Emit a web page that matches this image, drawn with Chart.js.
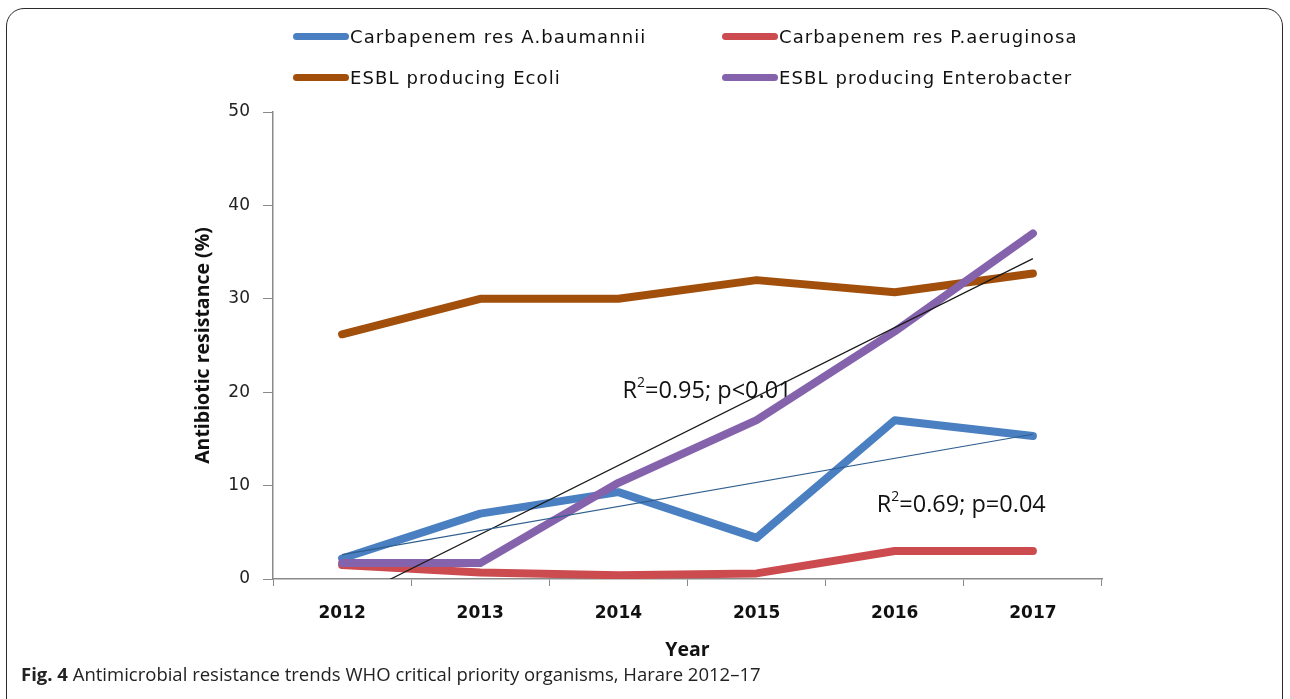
<!DOCTYPE html>
<html lang="en">
  <head>
    <meta charset="UTF-8" />
    <title>Antimicrobial resistance trends</title>
    <script src="https://cdn.jsdelivr.net/npm/chart.js"></script>
    <style>
      body {
        margin: 0;
        background: #fff;
        overflow: hidden;
        font-family: "Open Sans", sans-serif;
      }

      .page {
        position: relative;
        width: 1290px;
        height: 699px;
        overflow: hidden;
      }

      .frame {
        position: absolute;
        left: 6px;
        top: 8px;
        width: 1275px;
        height: 760px;
        border: 1.5px solid #2b2b2b;
        border-radius: 18px;
      }

      #chart {
        position: absolute;
        left: 0;
        top: 0;
      }

      .legend {
        position: absolute;
        left: 293px;
        top: 22px;
        display: grid;
        grid-template-columns: 429px 380px;
        row-gap: 13px;
      }

      .legend-item {
        display: flex;
        align-items: center;
        height: 28px;
        font-family: "DejaVu Sans", sans-serif;
        font-size: 18px;
        letter-spacing: 1.1px;
        color: #111;
      }

      .swatch {
        width: 56px;
        height: 7px;
        border-radius: 4px;
        margin-right: 1px;
      }

      .caption {
        position: absolute;
        left: 21px;
        top: 661px;
        font-size: 18.5px;
        color: #222;
        white-space: nowrap;
      }
    </style>
  </head>
  <body>
    <div class="page">
      <div class="frame"></div>
      <canvas id="chart" width="1290" height="699"></canvas>
      <div class="legend" id="legend"></div>
      <div class="caption">
        <b>Fig. 4</b> Antimicrobial resistance trends WHO critical priority organisms, Harare 2012–17
      </div>
    </div>

    <script>
      const years = ["2012", "2013", "2014", "2015", "2016", "2017"];
      const baumannii = [2.2, 7.0, 9.3, 4.4, 17.0, 15.3];
      const aeruginosa = [1.5, 0.7, 0.4, 0.6, 3.0, 3.0];
      const ecoli = [26.2, 30.0, 30.0, 32.0, 30.7, 32.7];
      const enterobacter = [1.7, 1.7, 10.3, 17.0, 26.5, 37.0];
      // linear trend lines, end values
      const baumanniiTrend = [2.6, null, null, null, null, 15.5];
      const enterobacterTrend = [-2.6, null, null, null, null, 34.3];
      const yMin = 0;
      const yMax = 50;
      const yStep = 10;

      // R² labels, placed in data units
      const notes = [
        { r2: "0.95", rest: "; p<0.01", x: 2.03, y: 20.1 },
        { r2: "0.69", rest: "; p=0.04", x: 3.87, y: 7.9 },
      ];

      const notesPlugin = {
        id: "notes",
        beforeDatasetsDraw(chart) {
          const { ctx, scales } = chart;
          ctx.save();
          ctx.fillStyle = "#111";
          ctx.textBaseline = "middle";
          notes.forEach((n) => {
            let x = scales.x.getPixelForValue(n.x);
            const y = scales.y.getPixelForValue(n.y);
            ctx.font = "23.5px 'Open Sans'";
            ctx.fillText("R", x, y);
            x += ctx.measureText("R").width;
            ctx.font = "14px 'Open Sans'";
            ctx.fillText("2", x, y - 8);
            x += ctx.measureText("2").width;
            ctx.font = "23.5px 'Open Sans'";
            ctx.fillText("=" + n.r2 + n.rest, x, y);
          });
          ctx.restore();
        },
      };

      const line = (label, data, color, order) => ({
        label,
        data,
        borderColor: color,
        backgroundColor: color,
        borderWidth: 8,
        borderCapStyle: "round",
        borderJoinStyle: "round",
        pointRadius: 0,
        tension: 0,
        order,
      });

      const chart = new Chart(document.getElementById("chart"), {
        type: "line",
        data: {
          labels: years,
          datasets: [
            line("Carbapenem res A.baumannii", baumannii, "#4a7fc1", 4),
            line("Carbapenem res P.aeruginosa", aeruginosa, "#cc4b4f", 3),
            line("ESBL producing Ecoli", ecoli, "#a14f0b", 2),
            line("ESBL producing Enterobacter", enterobacter, "#8462ac", 1),
            {
              label: "Linear (Carbapenem res A.baumannii)",
              data: baumanniiTrend,
              isTrend: true,
              borderColor: "#2f5f8f",
              borderWidth: 1.2,
              pointRadius: 0,
              spanGaps: true,
              order: 0,
            },
            {
              label: "Linear (ESBL producing Enterobacter)",
              data: enterobacterTrend,
              isTrend: true,
              borderColor: "#1a1a1a",
              borderWidth: 1.2,
              pointRadius: 0,
              spanGaps: true,
              clip: 0,
              order: 0,
            },
          ],
        },
        options: {
          responsive: false,
          animation: false,
          layout: { padding: { left: 190, top: 112, right: 188, bottom: 33 } },
          plugins: {
            legend: { display: false },
            tooltip: { enabled: false },
          },
          scales: {
            x: {
              offset: true,
              grid: {
                drawOnChartArea: false,
                tickLength: 7,
                color: "#8a8a8a",
                offset: true,
              },
              border: { color: "#8a8a8a", width: 1.5 },
              ticks: {
                padding: 17,
                color: "#111",
                font: { family: "DejaVu Sans", size: 17, weight: "bold" },
              },
              title: {
                display: true,
                text: "Year",
                color: "#111",
                font: { family: "Open Sans", size: 19.5, weight: "bold" },
              },
              afterFit: (s) => {
                s.height = 87;
              },
            },
            y: {
              min: yMin,
              max: yMax,
              ticks: {
                stepSize: yStep,
                padding: 13,
                color: "#222",
                font: { family: "DejaVu Sans", size: 17 },
              },
              grid: { drawOnChartArea: false, tickLength: 10, color: "#8a8a8a" },
              border: { color: "#8a8a8a", width: 1.5 },
              title: {
                display: true,
                text: "Antibiotic resistance (%)",
                color: "#111",
                font: { family: "Open Sans", size: 19.5, weight: "bold" },
                padding: { top: 2, bottom: 4 },
              },
              afterFit: (s) => {
                s.width = 83;
              },
            },
          },
        },
        plugins: [notesPlugin],
      });

      // html legend, two columns, built from the chart's own datasets
      const legendEl = document.getElementById("legend");
      chart.data.datasets
        .filter((d) => !d.isTrend)
        .forEach((d) => {
          const item = document.createElement("div");
          item.className = "legend-item";
          const sw = document.createElement("span");
          sw.className = "swatch";
          sw.style.background = d.borderColor;
          item.appendChild(sw);
          item.appendChild(document.createTextNode(d.label));
          legendEl.appendChild(item);
        });
    </script>
  </body>
</html>
